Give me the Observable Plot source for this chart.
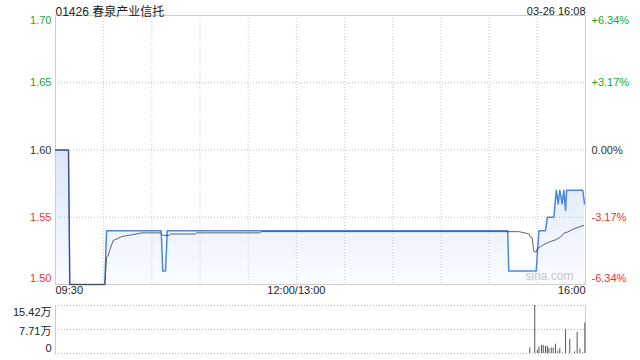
<!DOCTYPE html>
<html><head><meta charset="utf-8">
<script src="https://cdn.jsdelivr.net/npm/d3@7"></script>
<script src="https://cdn.jsdelivr.net/npm/@observablehq/plot@0.6"></script>
<style>
body{margin:0;background:#fff;}
#chart{position:relative;width:640px;height:360px;background:#fff;}
#main{position:absolute;left:0;top:0;}
#vol{position:absolute;left:0;top:300px;}
</style></head><body><div id="chart"><div id="main"></div><div id="vol"></div></div>
<script>
// ---- data ----
const title = "01426 春泉产业信托";
const stamp = "03-26 16:08";
const prevClose = 1.60;
const priceTicks = [1.70, 1.65, 1.60, 1.55, 1.50];
const priceLabels = ["1.70", "1.65", "1.60", "1.55", "1.50"];
const pctLabels = ["+6.34%", "+3.17%", "0.00%", "-3.17%", "-6.34%"];
const timeLabels = ["09:30", "12:00/13:00", "16:00"];
const timeLabelMinutes = [0, 150, 330];
// minutes since 09:30 on a continuous session axis (lunch removed)
const priceMinutes = [0, 8.1, 8.9, 30.7, 31.8, 65.8, 66.8, 68.5, 69.6, 281.6, 282.2, 299.3, 301.0, 305.1, 306.2, 310.3, 311.8, 313.0, 314.0, 315.5, 316.5, 317.6, 318.2, 328.3, 329.4];
const priceValues  = [1.60, 1.60, 1.50, 1.50, 1.54, 1.54, 1.51, 1.51, 1.54, 1.54, 1.51, 1.51, 1.54, 1.54, 1.55, 1.55, 1.57, 1.56, 1.57, 1.56, 1.57, 1.555, 1.57, 1.57, 1.56];
const avgMinutes = [0, 8.1, 8.9, 30.7, 31.8, 32.8, 34.2, 35.9, 38.4, 41.5, 47.8, 54.0, 65.4, 67.1, 70.5, 71.6, 87.2, 87.8, 127.0, 128.3, 288.5, 294.7, 295.8, 296.8, 297.8, 299.3, 299.9, 303.0, 307.2, 311.3, 314.4, 316.5, 318.6, 322.7, 325.8, 328.9];
const avgValues  = [1.60, 1.60, 1.50, 1.50, 1.52, 1.5216, 1.527, 1.5327, 1.534, 1.5357, 1.537, 1.5384, 1.5384, 1.5364, 1.5364, 1.5375, 1.5375, 1.5384, 1.5384, 1.5393, 1.5393, 1.5377, 1.5352, 1.5347, 1.5248, 1.524, 1.5265, 1.529, 1.5315, 1.5332, 1.5352, 1.5381, 1.5389, 1.5414, 1.5426, 1.5439];
const volTicks = [15.42, 7.71, 0];
const volLabels = ["15.42万", "7.71万", "0"];
const volMinutes = [295.3, 298.4, 300.0, 301.0, 302.6, 303.7, 305.1, 306.2, 307.2, 308.7, 309.9, 311.3, 312.8, 314.0, 315.5, 317.6, 320.2, 323.2, 324.8, 326.5, 328.0, 329.6];
const volValues  = [1.8, 15.42, 1.0, 2.1, 2.6, 2.6, 2.3, 2.3, 1.6, 1.8, 1.8, 3.0, 0.8, 1.6, 0.2, 7.7, 4.5, 0.5, 6.8, 1.4, 0.2, 9.8];

// ---- tables ----
const price = priceMinutes.map((t, i) => ({t, v: priceValues[i]}));
const avg = avgMinutes.map((t, i) => ({t, v: avgValues[i]}));
const vol = volMinutes.map((t, i) => ({t, v: volValues[i]}));
const yRows = priceTicks.map((v, i) => ({v, label: priceLabels[i], pct: pctLabels[i]}));
const tRows = timeLabels.map((label, i) => ({t: timeLabelMinutes[i], label}));
const vRows = volTicks.map((v, i) => ({v, label: volLabels[i]}));

const FONT = '"Liberation Sans", Arial, "Noto Sans CJK SC", sans-serif';
const GREEN = "#1fa51f", RED = "#f03030", DARK = "#333";
const col = d => d.v > prevClose + 1e-9 ? GREEN : (d.v < prevClose - 1e-9 ? RED : DARK);
const isTop = d => d.v === priceTicks[0];
const isBot = d => d.v === priceTicks[priceTicks.length - 1];
const isMid = d => !isTop(d) && !isBot(d);

const defs = () => {
  const s = d3.create("svg:defs");
  const g = s.append("linearGradient").attr("id", "pfill")
    .attr("x1", 0).attr("y1", 0).attr("x2", 0).attr("y2", 1);
  g.append("stop").attr("offset", "0%").attr("stop-color", "#dbe6fa");
  g.append("stop").attr("offset", "100%").attr("stop-color", "#fafcff");
  return s.node();
};

const ytext = (filter, dy) => [
  Plot.text(yRows, {filter, y: "v", text: "label", frameAnchor: "left", dx: -4, dy, textAnchor: "end", fill: col}),
  Plot.text(yRows, {filter, y: "v", text: "pct", frameAnchor: "right", dx: 6, dy, textAnchor: "start", fill: col})
];

const mainPlot = Plot.plot({
  width: 640, height: 300,
  marginLeft: 55, marginRight: 55, marginTop: 15, marginBottom: 16,
  x: {domain: [0, 330], axis: null},
  y: {domain: [1.50, 1.70], axis: null},
  style: {fontFamily: FONT, fontSize: "11px", background: "transparent", overflow: "visible"},
  marks: [
    defs,
    Plot.areaY(price, {x: "t", y1: 1.5, y2: "v", fill: "url(#pfill)"}),
    Plot.ruleX(d3.range(30, 330, 30), {stroke: "#c8c8c8", strokeDasharray: "1,2"}),
    Plot.ruleY([1.55, 1.60, 1.65], {stroke: "#bbb", strokeDasharray: "1,2"}),
    Plot.frame({stroke: "#ccc"}),
    Plot.line(price, {x: "t", y: "v", stroke: "#4a86e8", strokeWidth: 1.5}),
    Plot.line(avg, {x: "t", y: "v", stroke: "#333", strokeWidth: 1, strokeOpacity: 0.75}),
    ...ytext(isTop, 5),
    ...ytext(isMid, 0),
    ...ytext(isBot, -6),
    Plot.text(tRows, {filter: (d, i) => i === 0, x: "t", text: "label", frameAnchor: "bottom", dy: 9, textAnchor: "start", fill: "#222"}),
    Plot.text(tRows, {filter: (d, i) => i === 1, x: "t", text: "label", frameAnchor: "bottom", dy: 9, textAnchor: "middle", fill: "#222"}),
    Plot.text(tRows, {filter: (d, i) => i === 2, x: "t", text: "label", frameAnchor: "bottom", dy: 9, textAnchor: "end", fill: "#222"}),
    Plot.text([title], {frameAnchor: "top-left", dy: -8, textAnchor: "start", fontSize: 12, fill: "#222"}),
    Plot.text([stamp], {frameAnchor: "top-right", dy: -8, textAnchor: "end", fontSize: 11, fill: "#222"}),
    Plot.text(["sina.com"], {frameAnchor: "bottom-right", dx: -12, dy: -5, textAnchor: "end", fontSize: 12, fill: "#c8c8c8"})
  ]
});
document.getElementById("main").append(mainPlot);

const volPlot = Plot.plot({
  width: 640, height: 60,
  marginLeft: 55, marginRight: 55, marginTop: 5, marginBottom: 7,
  x: {domain: [0, 330], axis: null},
  y: {domain: [0, 15.42], axis: null},
  style: {fontFamily: FONT, fontSize: "11px", background: "transparent", overflow: "visible"},
  marks: [
    Plot.ruleY(volTicks, {stroke: "#bbb", strokeDasharray: "1,2"}),
    Plot.ruleX([0, 330], {stroke: "#ccc"}),
    Plot.ruleX(vol, {x: "t", y1: 0, y2: "v", stroke: "#555"}),
    Plot.text(vRows, {filter: (d, i) => i === 0, y: "v", text: "label", frameAnchor: "left", dx: -4, dy: 6.5, textAnchor: "end", fill: "#222"}),
    Plot.text(vRows, {filter: (d, i) => i === 1, y: "v", text: "label", frameAnchor: "left", dx: -4, dy: 1.5, textAnchor: "end", fill: "#222"}),
    Plot.text(vRows, {filter: (d, i) => i === 2, y: "v", text: "label", frameAnchor: "left", dx: -4, dy: -5, textAnchor: "end", fill: "#222"})
  ]
});
document.getElementById("vol").append(volPlot);
</script></body></html>
